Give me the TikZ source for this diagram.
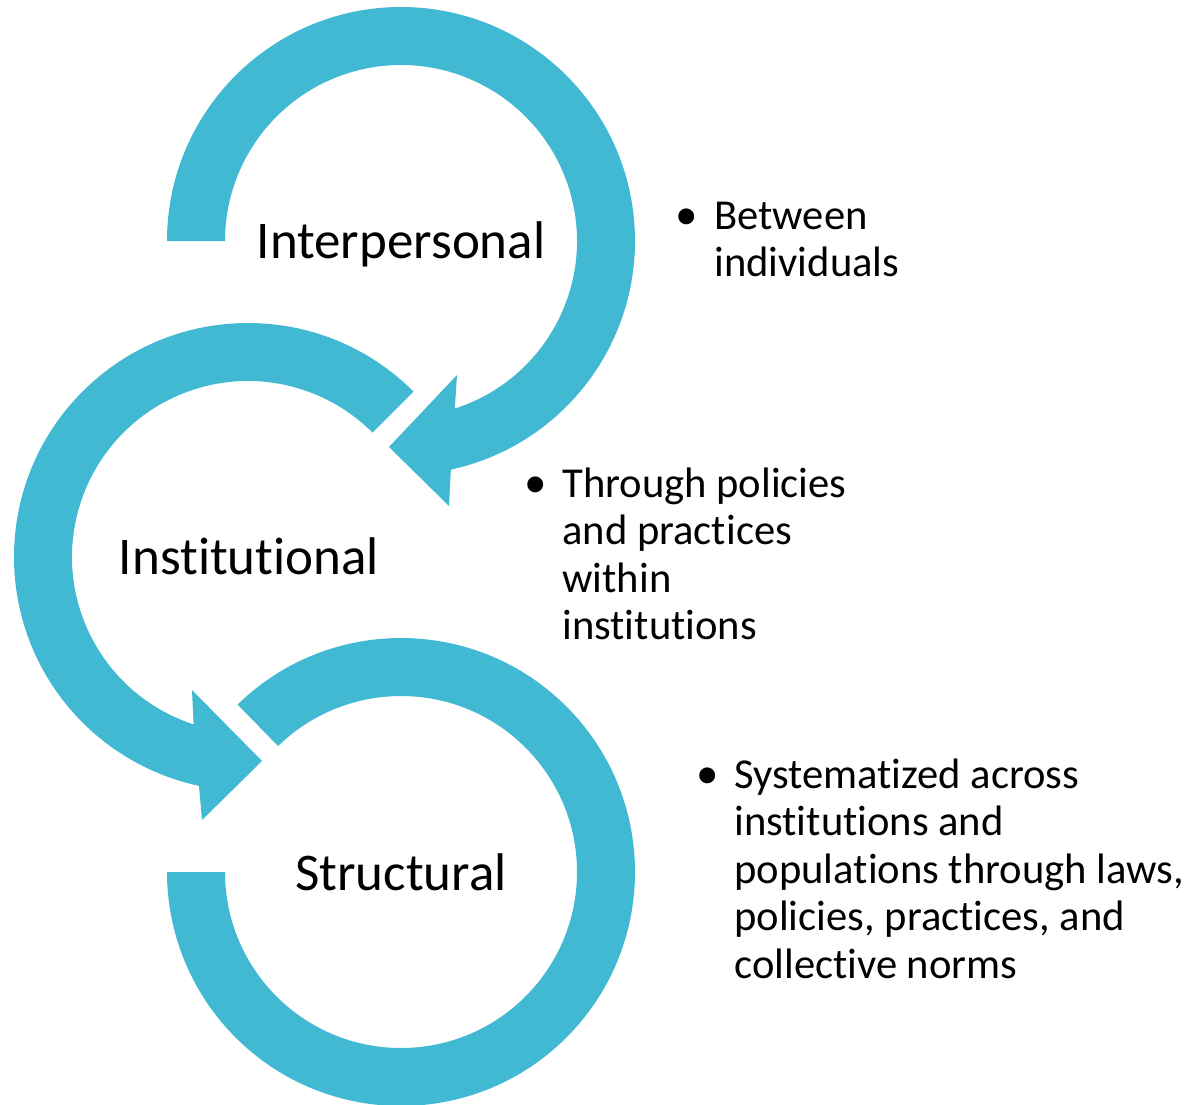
\documentclass[tikz,border=0pt]{standalone}
\usepackage{fontspec}
\setmainfont{Carlito}[Ligatures=NoCommon]
\usetikzlibrary{calc}
\definecolor{ringblue}{HTML}{42B9D3}
\begin{document}
\begin{tikzpicture}[x=0.5pt,y=0.5pt,
  ring/.style={fill=ringblue, draw=none},
  biglabel/.style={font=\fontsize{26.5}{32}\selectfont, inner sep=0pt, anchor=base},
  bline/.style={font=\fontsize{21.3}{25}\selectfont, inner sep=0pt, anchor=base west},
  bdot/.style={font=\fontsize{22.5}{25}\selectfont, inner sep=0pt, anchor=base}]
\useasboundingbox (0,0) rectangle (1194,-1104);
\coordinate (C1) at (401,-241);
\coordinate (C2) at (248,-557);
\coordinate (C3) at (401,-872);
% arrow 1: Interpersonal
\coordinate (a1bo) at (449,-506);
\coordinate (a1tip) at (389,-447);
\coordinate (a1bi) at (457,-375);
\path[ring] ($(C1)+(180:234)$) arc[start angle=180, end angle=-77.7, radius=234]
  -- (a1bo) -- (a1tip) -- (a1bi) -- ($(C1)+(-72.2:176)$)
  arc[start angle=-72.2, end angle=180, radius=176] -- cycle;
% arrow 2: Institutional
\coordinate (a2bo) at (202,-820);
\coordinate (a2tip) at (262,-761);
\coordinate (a2bi) at (192,-690);
\path[ring] ($(C2)+(45:234)$) arc[start angle=45, end angle=257.9, radius=234]
  -- (a2bo) -- (a2tip) -- (a2bi) -- ($(C2)+(252:176)$)
  arc[start angle=252, end angle=45, radius=176] -- cycle;
% ring 3: Structural
\path[ring] ($(C3)+(134.3:234)$) arc[start angle=134.3, end angle=-180, radius=234]
  -- ($(C3)+(180:176)$) arc[start angle=-180, end angle=134.3, radius=176] -- cycle;
% labels
\node[biglabel] (l1) at (401,-258) {Interpersonal};
\node[biglabel] (l2) at (249,-574) {Institutional};
\node[biglabel] (l3) at (401,-890) {Structural};
% bullet block 1
\node[bdot] (d1) at (687,-229) {•};
\node[bline] (t11) at (714,-229) {Between};
\node[bline] (t12) at (714,-276.5) {individuals};
% bullet block 2
\node[bdot] (d2) at (536,-497) {•};
\node[bline] (t21) at (562,-497) {Through policies};
\node[bline] (t22) at (562,-544.5) {and practices};
\node[bline] (t23) at (562,-592) {within};
\node[bline] (t24) at (562,-639.5) {institutions};
% bullet block 3
\node[bdot] (d3) at (708,-788) {•};
\node[bline] (t31) at (734,-788) {Systematized across};
\node[bline] (t32) at (734,-835.5) {institutions and};
\node[bline] (t33) at (734,-883) {populations through laws,};
\node[bline] (t34) at (734,-930.5) {policies, practices, and};
\node[bline] (t35) at (734,-978) {collective norms};
\end{tikzpicture}
\end{document}
